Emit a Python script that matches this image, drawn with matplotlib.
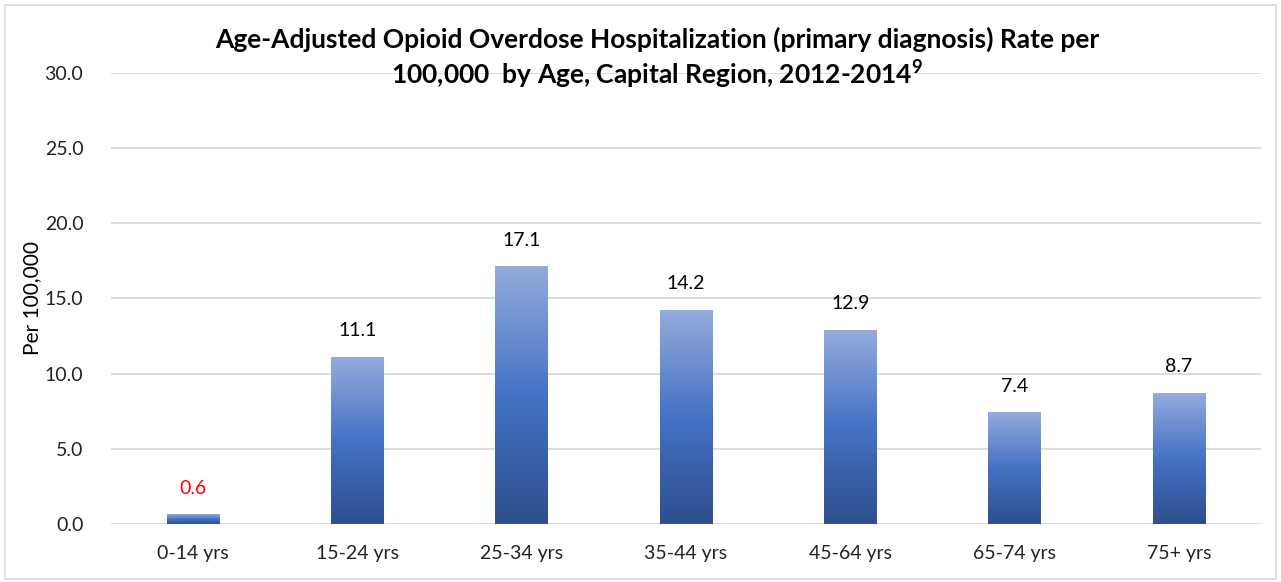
import numpy as np
import matplotlib.pyplot as plt
from matplotlib.colors import LinearSegmentedColormap
from matplotlib.patches import Rectangle

plt.rcParams['font.family'] = ['Lato', 'DejaVu Sans']
plt.rcParams['mathtext.fontset'] = 'custom'
plt.rcParams['mathtext.bf'] = 'Lato:bold'
plt.rcParams['mathtext.rm'] = 'Lato'

age_groups = ['0-14 yrs', '15-24 yrs', '25-34 yrs', '35-44 yrs', '45-64 yrs', '65-74 yrs', '75+ yrs']
rates = [0.6, 11.1, 17.1, 14.2, 12.9, 7.4, 8.7]
label_colors = ['red', 'black', 'black', 'black', 'black', 'black', 'black']

# light at top, dark at bottom, like the office gradient fill
grad_cmap = LinearSegmentedColormap.from_list('bar_grad', ['#2e4f8e', '#4472c4', '#94abdc'])

fig = plt.figure(figsize=(12.81, 5.82), dpi=100)
ax = fig.add_axes([0.0867, 0.0997, 0.8977, 0.7749])

x = np.arange(len(age_groups))
width = 0.32
bars = ax.bar(x, rates, width=width, color='none', zorder=3)

grad = np.linspace(0, 1, 256).reshape(-1, 1)
for b in bars:
    x0, h = b.get_x(), b.get_height()
    ax.imshow(grad, extent=[x0, x0 + b.get_width(), 0, h], origin='lower',
              aspect='auto', cmap=grad_cmap, zorder=3)

for xi, v, c in zip(x, rates, label_colors):
    ax.text(xi, v + 1.2, f'{v:.1f}', ha='center', va='bottom', fontsize=14, color=c)

ax.set_xlim(-0.5, len(age_groups) - 0.5)
ax.set_ylim(0, 30)
ax.set_yticks(np.arange(0, 31, 5))
ax.set_yticklabels([f'{t:.1f}' for t in np.arange(0, 31, 5)])
ax.set_xticks(x)
ax.set_xticklabels(age_groups)
ax.tick_params(axis='both', length=0, labelsize=14, colors='#222222')
ax.tick_params(axis='y', pad=20)
ax.tick_params(axis='x', pad=15)
ax.grid(axis='y', color='#d9d9d9', linewidth=1.3, zorder=0)
ax.set_axisbelow(True)
for s in ax.spines.values():
    s.set_visible(False)
ax.set_ylabel('Per 100,000', fontsize=15, labelpad=2)

fig.text(0.513, 0.955, 'Age-Adjusted Opioid Overdose Hospitalization (primary diagnosis) Rate per\n'
         r'100,000  by Age, Capital Region, 2012-2014$^{\mathbf{9}}$',
         ha='center', va='top', fontsize=19, fontweight='bold', linespacing=1.25)

fig.patches.append(Rectangle((0.004, 0.006), 0.992, 0.985, transform=fig.transFigure,
                             fill=False, edgecolor='#d9d9d9', linewidth=1.2))

fig.savefig('out.png', dpi=100)
